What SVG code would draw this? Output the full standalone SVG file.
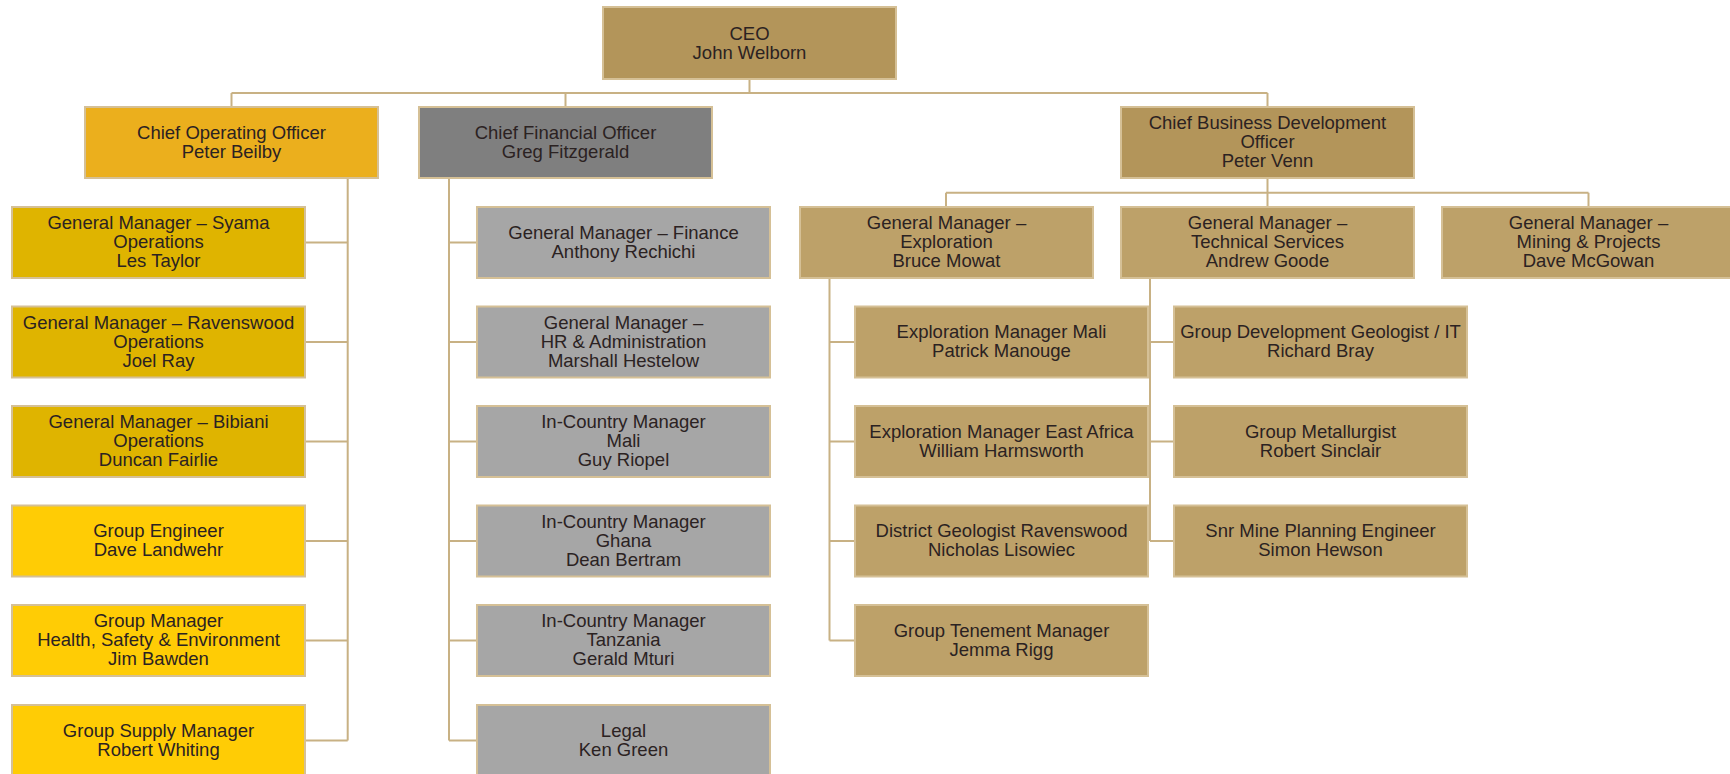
<svg xmlns="http://www.w3.org/2000/svg" width="1730" height="774" viewBox="0 0 1730 774">
<style>
.box{stroke:#d5c096;stroke-width:2}
.t{font-family:"Liberation Sans",Arial,sans-serif;font-size:18.5px;fill:#2b2222;text-anchor:middle}
.c{fill:none;stroke:#c8b184;stroke-width:2}
.ceo{fill:#b3955a}
.coo{fill:#ebaf1d}
.cfo{fill:#7f7f7f}
.ops{fill:#dfb400}
.grp{fill:#ffcc05}
.fin{fill:#a6a6a6}
.bd{fill:#bda169}
</style>
<rect width="1730" height="774" fill="#ffffff"/>
<g id="connectors">
<path class="c" d="M749.5 79V93M231.5 93H1267.5M231.5 93V107M565.5 93V107M1267.5 93V107"/>
<path class="c" d="M347.7 178V740.5M305 242.5H347.7M305 342H347.7M305 441.5H347.7M305 541H347.7M305 640.5H347.7M305 740.5H347.7"/>
<path class="c" d="M449 178V740.5M449 242.5H477M449 342H477M449 441.5H477M449 541H477M449 640.5H477M449 740.5H477"/>
<path class="c" d="M1267.5 178V192.7M946 192.7H1588.5M946 192.7V207M1267.5 192.7V207M1588.5 192.7V207"/>
<path class="c" d="M829.5 278V640.5M829.5 342H855M829.5 441.5H855M829.5 541H855M829.5 640.5H855"/>
<path class="c" d="M1150 278V541M1150 342H1174M1150 441.5H1174M1150 541H1174"/>
</g>
<g id="ceo"><rect class="box ceo" x="603" y="7" width="293" height="72"/><text class="t" x="749.5" y="40">CEO</text><text class="t" x="749.5" y="59">John Welborn</text></g>
<g id="coo"><rect class="box coo" x="85" y="107" width="293" height="71"/><text class="t" x="231.5" y="139">Chief Operating Officer</text><text class="t" x="231.5" y="158">Peter Beilby</text></g>
<g id="cfo"><rect class="box cfo" x="419" y="107" width="293" height="71"/><text class="t" x="565.5" y="139">Chief Financial Officer</text><text class="t" x="565.5" y="158">Greg Fitzgerald</text></g>
<g id="cbdo"><rect class="box ceo" x="1121" y="107" width="293" height="71"/><text class="t" x="1267.5" y="129">Chief Business Development</text><text class="t" x="1267.5" y="148">Officer</text><text class="t" x="1267.5" y="167">Peter Venn</text></g>

<g id="gm-syama"><rect class="box ops" x="12" y="207" width="293" height="71"/><text class="t" x="158.5" y="229">General Manager – Syama</text><text class="t" x="158.5" y="248">Operations</text><text class="t" x="158.5" y="267">Les Taylor</text></g>
<g id="gm-ravenswood"><rect class="box ops" x="12" y="306.5" width="293" height="71"/><text class="t" x="158.5" y="328.5">General Manager – Ravenswood</text><text class="t" x="158.5" y="347.5">Operations</text><text class="t" x="158.5" y="366.5">Joel Ray</text></g>
<g id="gm-bibiani"><rect class="box ops" x="12" y="406" width="293" height="71"/><text class="t" x="158.5" y="428">General Manager – Bibiani</text><text class="t" x="158.5" y="447">Operations</text><text class="t" x="158.5" y="466">Duncan Fairlie</text></g>
<g id="group-engineer"><rect class="box grp" x="12" y="505.5" width="293" height="71"/><text class="t" x="158.5" y="537">Group Engineer</text><text class="t" x="158.5" y="556">Dave Landwehr</text></g>
<g id="group-hse"><rect class="box grp" x="12" y="605" width="293" height="71"/><text class="t" x="158.5" y="627">Group Manager</text><text class="t" x="158.5" y="646">Health, Safety &amp; Environment</text><text class="t" x="158.5" y="665">Jim Bawden</text></g>
<g id="group-supply"><rect class="box grp" x="12" y="705" width="293" height="71"/><text class="t" x="158.5" y="736.5">Group Supply Manager</text><text class="t" x="158.5" y="755.5">Robert Whiting</text></g>

<g id="gm-finance"><rect class="box fin" x="477" y="207" width="293" height="71"/><text class="t" x="623.5" y="239">General Manager – Finance</text><text class="t" x="623.5" y="258">Anthony Rechichi</text></g>
<g id="gm-hr"><rect class="box fin" x="477" y="306.5" width="293" height="71"/><text class="t" x="623.5" y="328.5">General Manager –</text><text class="t" x="623.5" y="347.5">HR &amp; Administration</text><text class="t" x="623.5" y="366.5">Marshall Hestelow</text></g>
<g id="icm-mali"><rect class="box fin" x="477" y="406" width="293" height="71"/><text class="t" x="623.5" y="428">In-Country Manager</text><text class="t" x="623.5" y="447">Mali</text><text class="t" x="623.5" y="466">Guy Riopel</text></g>
<g id="icm-ghana"><rect class="box fin" x="477" y="505.5" width="293" height="71"/><text class="t" x="623.5" y="527.5">In-Country Manager</text><text class="t" x="623.5" y="546.5">Ghana</text><text class="t" x="623.5" y="565.5">Dean Bertram</text></g>
<g id="icm-tanzania"><rect class="box fin" x="477" y="605" width="293" height="71"/><text class="t" x="623.5" y="627">In-Country Manager</text><text class="t" x="623.5" y="646">Tanzania</text><text class="t" x="623.5" y="665">Gerald Mturi</text></g>
<g id="legal"><rect class="box fin" x="477" y="705" width="293" height="71"/><text class="t" x="623.5" y="736.5">Legal</text><text class="t" x="623.5" y="755.5">Ken Green</text></g>

<g id="gm-exploration"><rect class="box bd" x="800" y="207" width="293" height="71"/><text class="t" x="946.5" y="229">General Manager –</text><text class="t" x="946.5" y="248">Exploration</text><text class="t" x="946.5" y="267">Bruce Mowat</text></g>
<g id="gm-technical"><rect class="box bd" x="1121" y="207" width="293" height="71"/><text class="t" x="1267.5" y="229">General Manager –</text><text class="t" x="1267.5" y="248">Technical Services</text><text class="t" x="1267.5" y="267">Andrew Goode</text></g>
<g id="gm-mining"><rect class="box bd" x="1442" y="207" width="293" height="71"/><text class="t" x="1588.5" y="229">General Manager –</text><text class="t" x="1588.5" y="248">Mining &amp; Projects</text><text class="t" x="1588.5" y="267">Dave McGowan</text></g>

<g id="exp-mali"><rect class="box bd" x="855" y="306.5" width="293" height="71"/><text class="t" x="1001.5" y="338">Exploration Manager Mali</text><text class="t" x="1001.5" y="357">Patrick Manouge</text></g>
<g id="exp-eastafrica"><rect class="box bd" x="855" y="406" width="293" height="71"/><text class="t" x="1001.5" y="437.5">Exploration Manager East Africa</text><text class="t" x="1001.5" y="456.5">William Harmsworth</text></g>
<g id="district-geologist"><rect class="box bd" x="855" y="505.5" width="293" height="71"/><text class="t" x="1001.5" y="537">District Geologist Ravenswood</text><text class="t" x="1001.5" y="556">Nicholas Lisowiec</text></g>
<g id="tenement"><rect class="box bd" x="855" y="605" width="293" height="71"/><text class="t" x="1001.5" y="636.5">Group Tenement Manager</text><text class="t" x="1001.5" y="655.5">Jemma Rigg</text></g>

<g id="dev-geologist"><rect class="box bd" x="1174" y="306.5" width="293" height="71"/><text class="t" x="1320.5" y="338">Group Development Geologist / IT</text><text class="t" x="1320.5" y="357">Richard Bray</text></g>
<g id="metallurgist"><rect class="box bd" x="1174" y="406" width="293" height="71"/><text class="t" x="1320.5" y="437.5">Group Metallurgist</text><text class="t" x="1320.5" y="456.5">Robert Sinclair</text></g>
<g id="mine-planning"><rect class="box bd" x="1174" y="505.5" width="293" height="71"/><text class="t" x="1320.5" y="537">Snr Mine Planning Engineer</text><text class="t" x="1320.5" y="556">Simon Hewson</text></g>
</svg>
